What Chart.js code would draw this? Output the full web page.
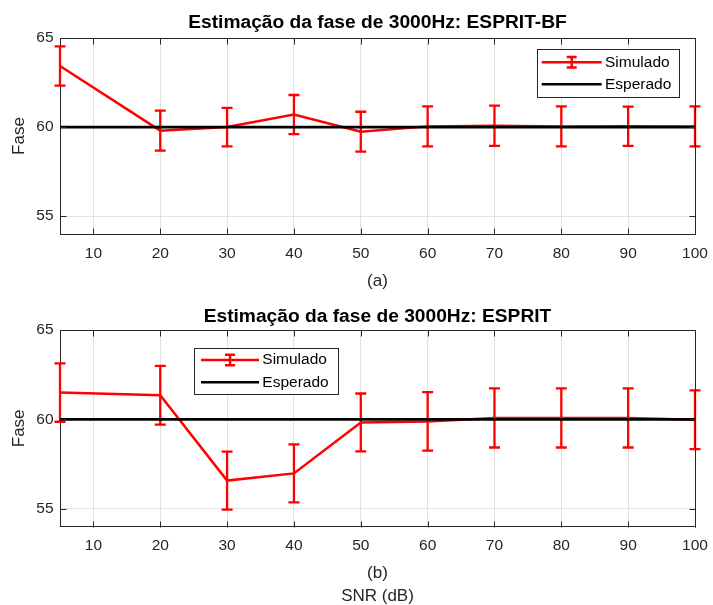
<!DOCTYPE html>
<html lang="pt">
<head>
<meta charset="UTF-8">
<title>Estimação da fase de 3000Hz</title>
<script src="https://cdn.jsdelivr.net/npm/chart.js@4.4.1/dist/chart.umd.min.js"></script>
<style>
  html, body { margin: 0; padding: 0; background: #fff; overflow: hidden; }
  .plot { position: absolute; left: 0; width: 713px; }
  #plotA { top: 0; height: 300px; }
  #plotB { top: 300px; height: 310px; }
</style>
</head>
<body>

<div class="plot" id="plotA"><canvas id="chartA"></canvas></div>
<div class="plot" id="plotB"><canvas id="chartB"></canvas></div>

<script>
// SNR (dB) values where both methods were evaluated
var snr = [5, 20, 30, 40, 50, 60, 70, 80, 90, 100];
var xTicks = [10, 20, 30, 40, 50, 60, 70, 80, 90, 100];
var yTicks = [55, 60, 65];
var esperado = [60, 60, 60, 60, 60, 60, 60, 60, 60, 60];

// (a) ESPRIT-BF: mean phase and error bar half-length
var simBF = [63.43, 59.8, 60.0, 60.7, 59.74, 60.04, 60.08, 60.04, 60.05, 60.04];
var errBF = [1.1, 1.12, 1.08, 1.1, 1.12, 1.12, 1.13, 1.12, 1.1, 1.12];

// (b) ESPRIT
var simES = [61.5, 61.35, 56.58, 56.98, 59.83, 59.89, 60.08, 60.08, 60.08, 59.98];
var errES = [1.63, 1.64, 1.62, 1.62, 1.62, 1.64, 1.65, 1.65, 1.65, 1.64];

var FONT = '"Liberation Sans", Arial, Helvetica, sans-serif';
var AXIS = '#262626';

Chart.defaults.font.family = FONT;
Chart.defaults.color = AXIS;

function points(ys) {
    return snr.map(function (x, i) { return { x: x, y: ys[i] }; });
}

// error bars, axes box, inward ticks, title and legend, matlab style
var matlabLook = {
    id: 'matlabLook',
    afterDatasetDraw: function (chart, args) {
        var ds = chart.data.datasets[args.index];
        if (!ds.errorBars) return;
        var ctx = chart.ctx, xs = chart.scales.x, ys = chart.scales.y;
        ctx.save();
        ctx.strokeStyle = ds.borderColor;
        ctx.lineWidth = 2.3;
        ds.data.forEach(function (p, i) {
            var e = ds.errorBars[i];
            var px = xs.getPixelForValue(p.x);
            var top = ys.getPixelForValue(p.y + e);
            var bot = ys.getPixelForValue(p.y - e);
            ctx.beginPath();
            ctx.moveTo(px, top); ctx.lineTo(px, bot);
            ctx.moveTo(px - 5.5, top); ctx.lineTo(px + 5.5, top);
            ctx.moveTo(px - 5.5, bot); ctx.lineTo(px + 5.5, bot);
            ctx.stroke();
        });
        ctx.restore();
    },
    afterDraw: function (chart, args, opts) {
        var ctx = chart.ctx, a = chart.chartArea;
        var xs = chart.scales.x, ys = chart.scales.y;
        var L = Math.round(a.left) + 0.5, R = Math.round(a.right) + 0.5;
        var T = Math.round(a.top) + 0.5, B = Math.round(a.bottom) + 0.5;
        ctx.save();
        ctx.strokeStyle = AXIS;
        ctx.lineWidth = 1;
        ctx.beginPath();
        ctx.moveTo(L, T); ctx.lineTo(R, T); ctx.lineTo(R, B);
        xTicks.forEach(function (v) {
            var px = Math.round(xs.getPixelForValue(v)) + 0.5;
            ctx.moveTo(px, B); ctx.lineTo(px, B - 6);
            ctx.moveTo(px, T); ctx.lineTo(px, T + 6);
        });
        yTicks.forEach(function (v) {
            var py = Math.round(ys.getPixelForValue(v)) + 0.5;
            ctx.moveTo(L, py); ctx.lineTo(L + 6, py);
            ctx.moveTo(R, py); ctx.lineTo(R - 6, py);
        });
        ctx.stroke();

        // title, centred over the axes
        ctx.fillStyle = '#000';
        ctx.font = 'bold 19.2px ' + FONT;
        ctx.textAlign = 'center';
        ctx.textBaseline = 'middle';
        ctx.fillText(opts.title, (a.left + a.right) / 2, opts.titleY);

        // legend box
        var lg = opts.box;
        ctx.fillStyle = '#fff';
        ctx.fillRect(lg.x, lg.y, lg.w, lg.h);
        ctx.strokeRect(lg.x + 0.5, lg.y + 0.5, lg.w, lg.h);
        ctx.font = '15.5px ' + FONT;
        ctx.textAlign = 'left';
        chart.data.datasets.forEach(function (ds, i) {
            var y = lg.y + lg.row0 + i * lg.rowH;
            var x0 = lg.x + lg.line0, x1 = lg.x + lg.line1, xm = (x0 + x1) / 2;
            ctx.strokeStyle = ds.borderColor;
            ctx.lineWidth = ds.borderWidth;
            ctx.beginPath();
            ctx.moveTo(x0, y); ctx.lineTo(x1, y);
            if (ds.errorBars) {
                ctx.moveTo(xm, y - 5.3); ctx.lineTo(xm, y + 5.3);
                ctx.moveTo(xm - 5, y - 5.3); ctx.lineTo(xm + 5, y - 5.3);
                ctx.moveTo(xm - 5, y + 5.3); ctx.lineTo(xm + 5, y + 5.3);
            }
            ctx.stroke();
            ctx.fillStyle = '#000';
            ctx.fillText(ds.label, lg.x + lg.text, y);
        });
        ctx.restore();
    }
};

function makeChart(id, sim, err, cfg) {
    var ctx = document.getElementById(id).getContext('2d');
    return new Chart(ctx, {
        type: 'line',
        data: {
            datasets: [{
                label: 'Simulado',
                data: points(sim),
                errorBars: err,
                borderColor: '#ff0000',
                borderWidth: 2.5,
                pointRadius: 0,
                tension: 0,
                clip: false,
                order: 1
            }, {
                label: 'Esperado',
                data: points(esperado),
                borderColor: '#000000',
                borderWidth: 2.6,
                pointRadius: 0,
                tension: 0,
                clip: false,
                order: 0
            }]
        },
        options: {
            responsive: true,
            maintainAspectRatio: false,
            animation: false,
            devicePixelRatio: 1,
            layout: { padding: { left: 0, right: 18, top: cfg.top, bottom: 0 } },
            plugins: {
                legend: { display: false },
                tooltip: { enabled: false },
                title: { display: false },
                matlabLook: { box: cfg.legend, title: cfg.title, titleY: cfg.titleY }
            },
            scales: {
                x: {
                    type: 'linear',
                    min: 5,
                    max: 100,
                    afterBuildTicks: function (s) {
                        s.ticks = xTicks.map(function (v) { return { value: v }; });
                    },
                    afterFit: function (s) {
                        s.height = cfg.xHeight;
                        s.paddingLeft = 0;
                        s.paddingRight = 0;
                    },
                    grid: { color: '#e1e1e1', drawTicks: false },
                    border: { display: true, color: AXIS, width: 1 },
                    ticks: { autoSkip: false, maxRotation: 0, padding: 10, font: { size: 15.5 }, color: AXIS },
                    title: {
                        display: true,
                        text: cfg.xTitle,
                        color: AXIS,
                        font: { size: 17, lineHeight: cfg.xTitleLH },
                        padding: { top: 0, bottom: cfg.xTitlePad }
                    }
                },
                y: {
                    type: 'linear',
                    min: 54,
                    max: 65,
                    afterBuildTicks: function (s) {
                        s.ticks = yTicks.map(function (v) { return { value: v }; });
                    },
                    afterFit: function (s) { s.width = 60; },
                    grid: { color: '#e1e1e1', drawTicks: false },
                    border: { display: true, color: AXIS, width: 1 },
                    ticks: { padding: 6.5, font: { size: 15.5 }, color: AXIS },
                    title: {
                        display: true,
                        text: 'Fase',
                        color: AXIS,
                        font: { size: 17, lineHeight: 1.2 },
                        padding: { top: 9.5, bottom: 0 }
                    }
                }
            }
        },
        plugins: [matlabLook]
    });
}

makeChart('chartA', simBF, errBF, {
    title: 'Estimação da fase de 3000Hz: ESPRIT-BF',
    titleY: 23,
    top: 38,
    xTitle: '(a)',
    xTitleLH: 1.2,
    xTitlePad: 8.5,
    xHeight: 66,
    legend: { x: 537, y: 49, w: 142, h: 48, row0: 13.3, rowH: 22, line0: 4.7, line1: 64.7, text: 68 }
});

makeChart('chartB', simES, errES, {
    title: 'Estimação da fase de 3000Hz: ESPRIT',
    titleY: 16.5,
    top: 30,
    xTitle: ['(b)', 'SNR (dB)'],
    xTitleLH: 1.38,
    xTitlePad: 1.5,
    xHeight: 83.3,
    legend: { x: 194, y: 48, w: 144, h: 46, row0: 12, rowH: 22.3, line0: 7, line1: 65, text: 68.3 }
});
</script>
</body>
</html>
